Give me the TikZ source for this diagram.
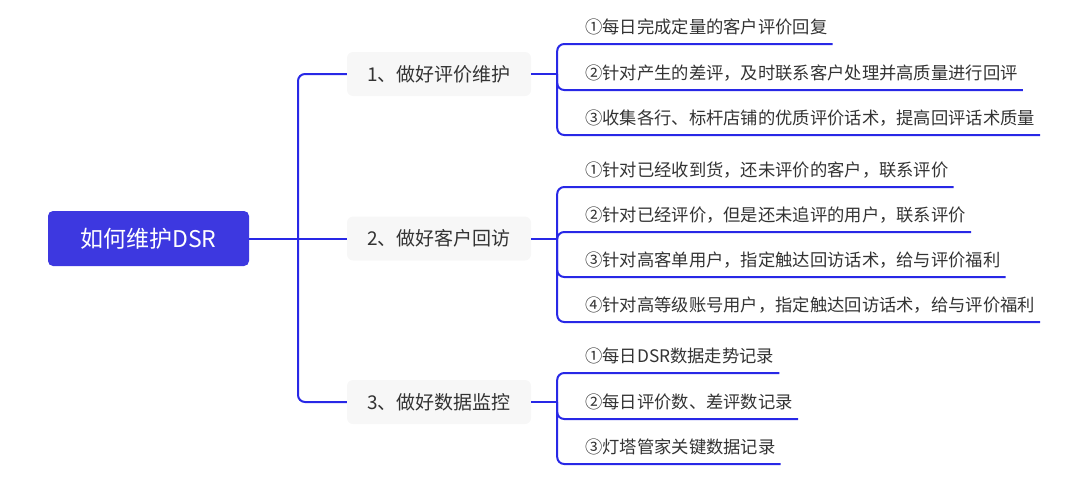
\documentclass[tikz,border=0pt]{standalone}
\usepackage{fontspec}
\setmainfont{Noto Sans CJK SC}
\definecolor{rootblue}{RGB}{61,56,224}
\definecolor{linkblue}{RGB}{40,40,230}
\definecolor{boxgray}{RGB}{247,247,247}
\definecolor{textgray}{RGB}{51,51,51}
\begin{document}
\begin{tikzpicture}[
    x=1pt, y=-1pt,
    root/.style={
        rectangle,
        rounded corners=5pt,
        fill=rootblue,
        minimum width=201pt,
        minimum height=55pt,
        text=white,
        font=\fontsize{23}{26}\selectfont
    },
    topic/.style={
        rectangle,
        rounded corners=6pt,
        fill=boxgray,
        minimum width=184pt,
        minimum height=44pt,
        text=textgray,
        font=\fontsize{19}{22}\selectfont
    },
    leaf/.style={
        anchor=south west,
        inner xsep=5pt,
        inner ysep=7.5pt,
        text height=13pt,
        text depth=3pt,
        text=textgray,
        font=\fontsize{17.3}{20}\selectfont
    },
    link/.style={
        draw=linkblue,
        line width=2pt,
        rounded corners=7pt
    }
]
\useasboundingbox (0,0) rectangle (1080,482);

% Root
\node[root] (dsr) at (148.5, 238.5) {如何维护DSR};

% Topics
\node[topic] (review) at (439, 74) {1、做好评价维护};
\node[topic] (visit) at (439, 238.5) {2、做好客户回访};
\node[topic] (monitor) at (439, 402) {3、做好数据监控};

% Leaves of topic 1
\node[leaf] (r1) at (580, 44) {①每日完成定量的客户评价回复};
\node[leaf] (r2) at (580, 90) {②针对产生的差评，及时联系客户处理并高质量进行回评};
\node[leaf] (r3) at (580, 135) {③收集各行、标杆店铺的优质评价话术，提高回评话术质量};

% Leaves of topic 2
\node[leaf] (v1) at (580, 187) {①针对已经收到货，还未评价的客户，联系评价};
\node[leaf] (v2) at (580, 232) {②针对已经评价，但是还未追评的用户，联系评价};
\node[leaf] (v3) at (580, 277) {③针对高客单用户，指定触达回访话术，给与评价福利};
\node[leaf] (v4) at (580, 322) {④针对高等级账号用户，指定触达回访话术，给与评价福利};

% Leaves of topic 3
\node[leaf] (m1) at (580, 373) {①每日DSR数据走势记录};
\node[leaf] (m2) at (580, 419) {②每日评价数、差评数记录};
\node[leaf] (m3) at (580, 464) {③灯塔管家关键数据记录};

% Root to topics
\coordinate (hub) at (298, 238.5);
\draw[link] (dsr.east) -- (visit.west);
\draw[link] (hub) |- (review.west);
\draw[link] (hub) |- (monitor.west);

% Topics to leaves
\coordinate (rhub) at ([xshift=26pt]review.east);
\coordinate (vhub) at ([xshift=26pt]visit.east);
\coordinate (mhub) at ([xshift=26pt]monitor.east);
\draw[link] (review.east) -- (rhub);
\draw[link] (visit.east) -- (vhub);
\draw[link] (monitor.east) -- (mhub);

\foreach \leafname in {r1, r2, r3}
    \draw[link] (rhub) |- (\leafname.south east);
\foreach \leafname in {v1, v2, v3, v4}
    \draw[link] (vhub) |- (\leafname.south east);
\foreach \leafname in {m1, m2, m3}
    \draw[link] (mhub) |- (\leafname.south east);

\end{tikzpicture}
\end{document}
